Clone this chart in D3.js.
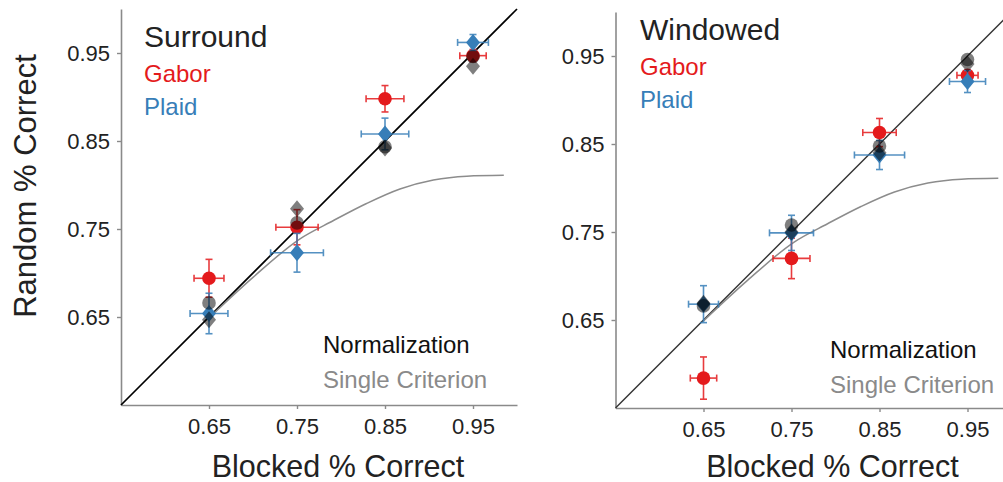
<!DOCTYPE html>
<html>
<head>
<meta charset="utf-8">
<script src="https://cdn.jsdelivr.net/npm/d3@7"></script>
<style>
  html, body { margin: 0; padding: 0; background: #fff; }
  svg { display: block; font-family: "Liberation Sans", Arial, Helvetica, sans-serif; }
</style>
</head>
<body>
<svg id="chart" width="1003" height="482"></svg>
<script>
// Stimulus levels (blocked % correct) shared by both panels
const levels = [0.65, 0.75, 0.85, 0.95];
const tickValues = [0.65, 0.75, 0.85, 0.95];
const tickLabels = ["0.65", "0.75", "0.85", "0.95"];

// Surround condition: observed random-interleaved performance
const surroundGaborY = [0.694, 0.752, 0.898, 0.947];
const surroundGaborXErr = [0.017, 0.024, 0.0215, 0.015];
const surroundGaborYErr = [0.0215, 0.02, 0.015, 0.007];
const surroundPlaidY = [0.654, 0.723, 0.858, 0.962];
const surroundPlaidXErr = [0.0215, 0.030, 0.027, 0.0175];
const surroundPlaidYErr = [0.023, 0.022, 0.018, 0.009];
// Surround condition: normalization model predictions
const surroundNormGabor = [0.666, 0.757, 0.8435, 0.946];
const surroundNormPlaid = [0.647, 0.773, 0.842, 0.935];

// Windowed condition: observed random-interleaved performance
const windowedGaborY = [0.584, 0.720, 0.863, 0.928];
const windowedGaborXErr = [0.015, 0.021, 0.019, 0.012];
const windowedGaborYErr = [0.024, 0.023, 0.016, 0.006];
const windowedPlaidY = [0.668, 0.749, 0.8375, 0.921];
const windowedPlaidXErr = [0.017, 0.025, 0.0285, 0.0205];
const windowedPlaidYErr = [0.021, 0.02, 0.0165, 0.0125];
// Windowed condition: normalization model predictions
const windowedNormGabor = [0.666, 0.758, 0.8477, 0.946];
const windowedNormPlaid = [0.669, 0.750, 0.840, 0.941];

// Single-criterion model prediction curve
const singleX = [0.65, 0.70, 0.753, 0.791, 0.829, 0.867, 0.905, 0.943, 0.985];
const singleY = [0.649, 0.695, 0.7386, 0.7594, 0.779, 0.7955, 0.8057, 0.810, 0.811];

const RED = "#e41a1c", BLUE = "#377eb8", AXIS = "#8a8a8a", TEXT = "#222";
const svg = d3.select("#chart");

function drawPanel(cfg) {
  const size = 396;
  const x = d3.scaleLinear().domain([0.55, 1.0]).range([cfg.left, cfg.left + size]);
  const y = d3.scaleLinear().domain([0.55, 1.0]).range([cfg.bottom, cfg.bottom - size]);
  const g = svg.append("g");

  // axes (left and bottom spines only)
  const xAxis = d3.axisBottom(x).tickValues(tickValues).tickFormat((d, i) => tickLabels[i])
    .tickSize(4).tickSizeOuter(0).tickPadding(9);
  const yAxis = d3.axisLeft(y).tickValues(tickValues).tickFormat((d, i) => tickLabels[i])
    .tickSize(4).tickSizeOuter(0).tickPadding(7);
  const gx = g.append("g").attr("transform", `translate(0,${cfg.bottom})`).call(xAxis);
  const gy = g.append("g").attr("transform", `translate(${cfg.left},0)`).call(yAxis);
  [gx, gy].forEach(a => {
    a.select(".domain").attr("stroke", AXIS).attr("stroke-width", 1.6);
    a.selectAll(".tick line").attr("stroke", AXIS).attr("stroke-width", 1.4);
    a.selectAll(".tick text").attr("fill", TEXT).style("font-size", "22px")
      .style("font-family", "'Liberation Sans', Arial, sans-serif");
  });

  // identity line
  g.append("line")
    .attr("x1", x(0.55)).attr("y1", y(0.55)).attr("x2", x(1.0)).attr("y2", y(1.0))
    .attr("stroke", cfg.diagColor).attr("stroke-width", cfg.diagWidth);

  // single-criterion curve
  const curve = d3.line().x(d => x(d[0])).y(d => y(d[1])).curve(d3.curveMonotoneX);
  g.append("path").datum(singleX.map((v, i) => [v, singleY[i]]))
    .attr("d", curve).attr("fill", "none").attr("stroke", "#8c8c8c").attr("stroke-width", 1.5);

  // error bars
  function errorBars(ys, xe, ye, color) {
    const eb = g.append("g").attr("stroke", color).attr("stroke-width", 1.6).attr("opacity", 0.85);
    const cap = 3.5;
    levels.forEach((lv, i) => {
      const cx = x(lv), cy = y(ys[i]);
      const xl = x(lv - xe[i]), xr = x(lv + xe[i]);
      const yt = y(ys[i] + ye[i]), yb = y(ys[i] - ye[i]);
      eb.append("line").attr("x1", xl).attr("x2", xr).attr("y1", cy).attr("y2", cy);
      eb.append("line").attr("x1", xl).attr("x2", xl).attr("y1", cy - cap).attr("y2", cy + cap);
      eb.append("line").attr("x1", xr).attr("x2", xr).attr("y1", cy - cap).attr("y2", cy + cap);
      eb.append("line").attr("x1", cx).attr("x2", cx).attr("y1", yt).attr("y2", yb);
      eb.append("line").attr("x1", cx - cap).attr("x2", cx + cap).attr("y1", yt).attr("y2", yt);
      eb.append("line").attr("x1", cx - cap).attr("x2", cx + cap).attr("y1", yb).attr("y2", yb);
    });
  }
  const diamond = (cx, cy) => `M${cx},${cy - 8.5}L${cx + 7},${cy}L${cx},${cy + 8.5}L${cx - 7},${cy}Z`;
  function circles(ys, fill, opacity) {
    g.append("g").selectAll("circle").data(levels).join("circle")
      .attr("cx", d => x(d)).attr("cy", (d, i) => y(ys[i])).attr("r", 6.8)
      .attr("fill", fill).attr("opacity", opacity);
  }
  function diamonds(ys, fill, opacity) {
    g.append("g").selectAll("path").data(levels).join("path")
      .attr("d", (d, i) => diamond(x(d), y(ys[i])))
      .attr("fill", fill).attr("opacity", opacity);
  }

  errorBars(cfg.gaborY, cfg.gaborXErr, cfg.gaborYErr, RED);
  circles(cfg.gaborY, RED, 1);
  errorBars(cfg.plaidY, cfg.plaidXErr, cfg.plaidYErr, BLUE);
  diamonds(cfg.plaidY, BLUE, 1);
  // normalization model predictions, translucent on top
  circles(cfg.normGabor, "#000", 0.5);
  diamonds(cfg.normPlaid, "#000", 0.5);

  // labels
  const t = (txt, px, py, size, color, anchor) => g.append("text").text(txt)
    .attr("x", px).attr("y", py).attr("fill", color).style("font-size", size + "px")
    .attr("text-anchor", anchor || "start");
  t(cfg.title, cfg.left + cfg.titleDx, cfg.titleY, 30, TEXT);
  t("Gabor", cfg.left + cfg.titleDx, cfg.titleY + 35, 24, RED);
  t("Plaid", cfg.left + cfg.titleDx, cfg.titleY + 67.5, 24, BLUE);
  t("Normalization", cfg.left + cfg.legDx, cfg.legY, 24, "#111");
  t("Single Criterion", cfg.left + cfg.legDx, cfg.legY + 35, 24, "#8a8a8a");

  t("Blocked % Correct", x(0.8) - 3, 477, 30.5, TEXT, "middle");
  if (cfg.yLabel) {
    g.append("text").text("Random % Correct")
      .attr("transform", `translate(36,186) rotate(-90)`)
      .attr("text-anchor", "middle").attr("fill", TEXT).style("font-size", "31px");
  }
}

drawPanel({
  left: 121, bottom: 405, title: "Surround", titleDx: 23, titleY: 47, legDx: 202, legY: 353,
  diagColor: "#000", diagWidth: 1.7, yLabel: true,
  gaborY: surroundGaborY, gaborXErr: surroundGaborXErr, gaborYErr: surroundGaborYErr,
  plaidY: surroundPlaidY, plaidXErr: surroundPlaidXErr, plaidYErr: surroundPlaidYErr,
  normGabor: surroundNormGabor, normPlaid: surroundNormPlaid
});
drawPanel({
  left: 615.5, bottom: 408, title: "Windowed", titleDx: 24.5, titleY: 40, legDx: 214.5, legY: 358,
  diagColor: "#333", diagWidth: 1.4, yLabel: false,
  gaborY: windowedGaborY, gaborXErr: windowedGaborXErr, gaborYErr: windowedGaborYErr,
  plaidY: windowedPlaidY, plaidXErr: windowedPlaidXErr, plaidYErr: windowedPlaidYErr,
  normGabor: windowedNormGabor, normPlaid: windowedNormPlaid
});
</script>
</body>
</html>
